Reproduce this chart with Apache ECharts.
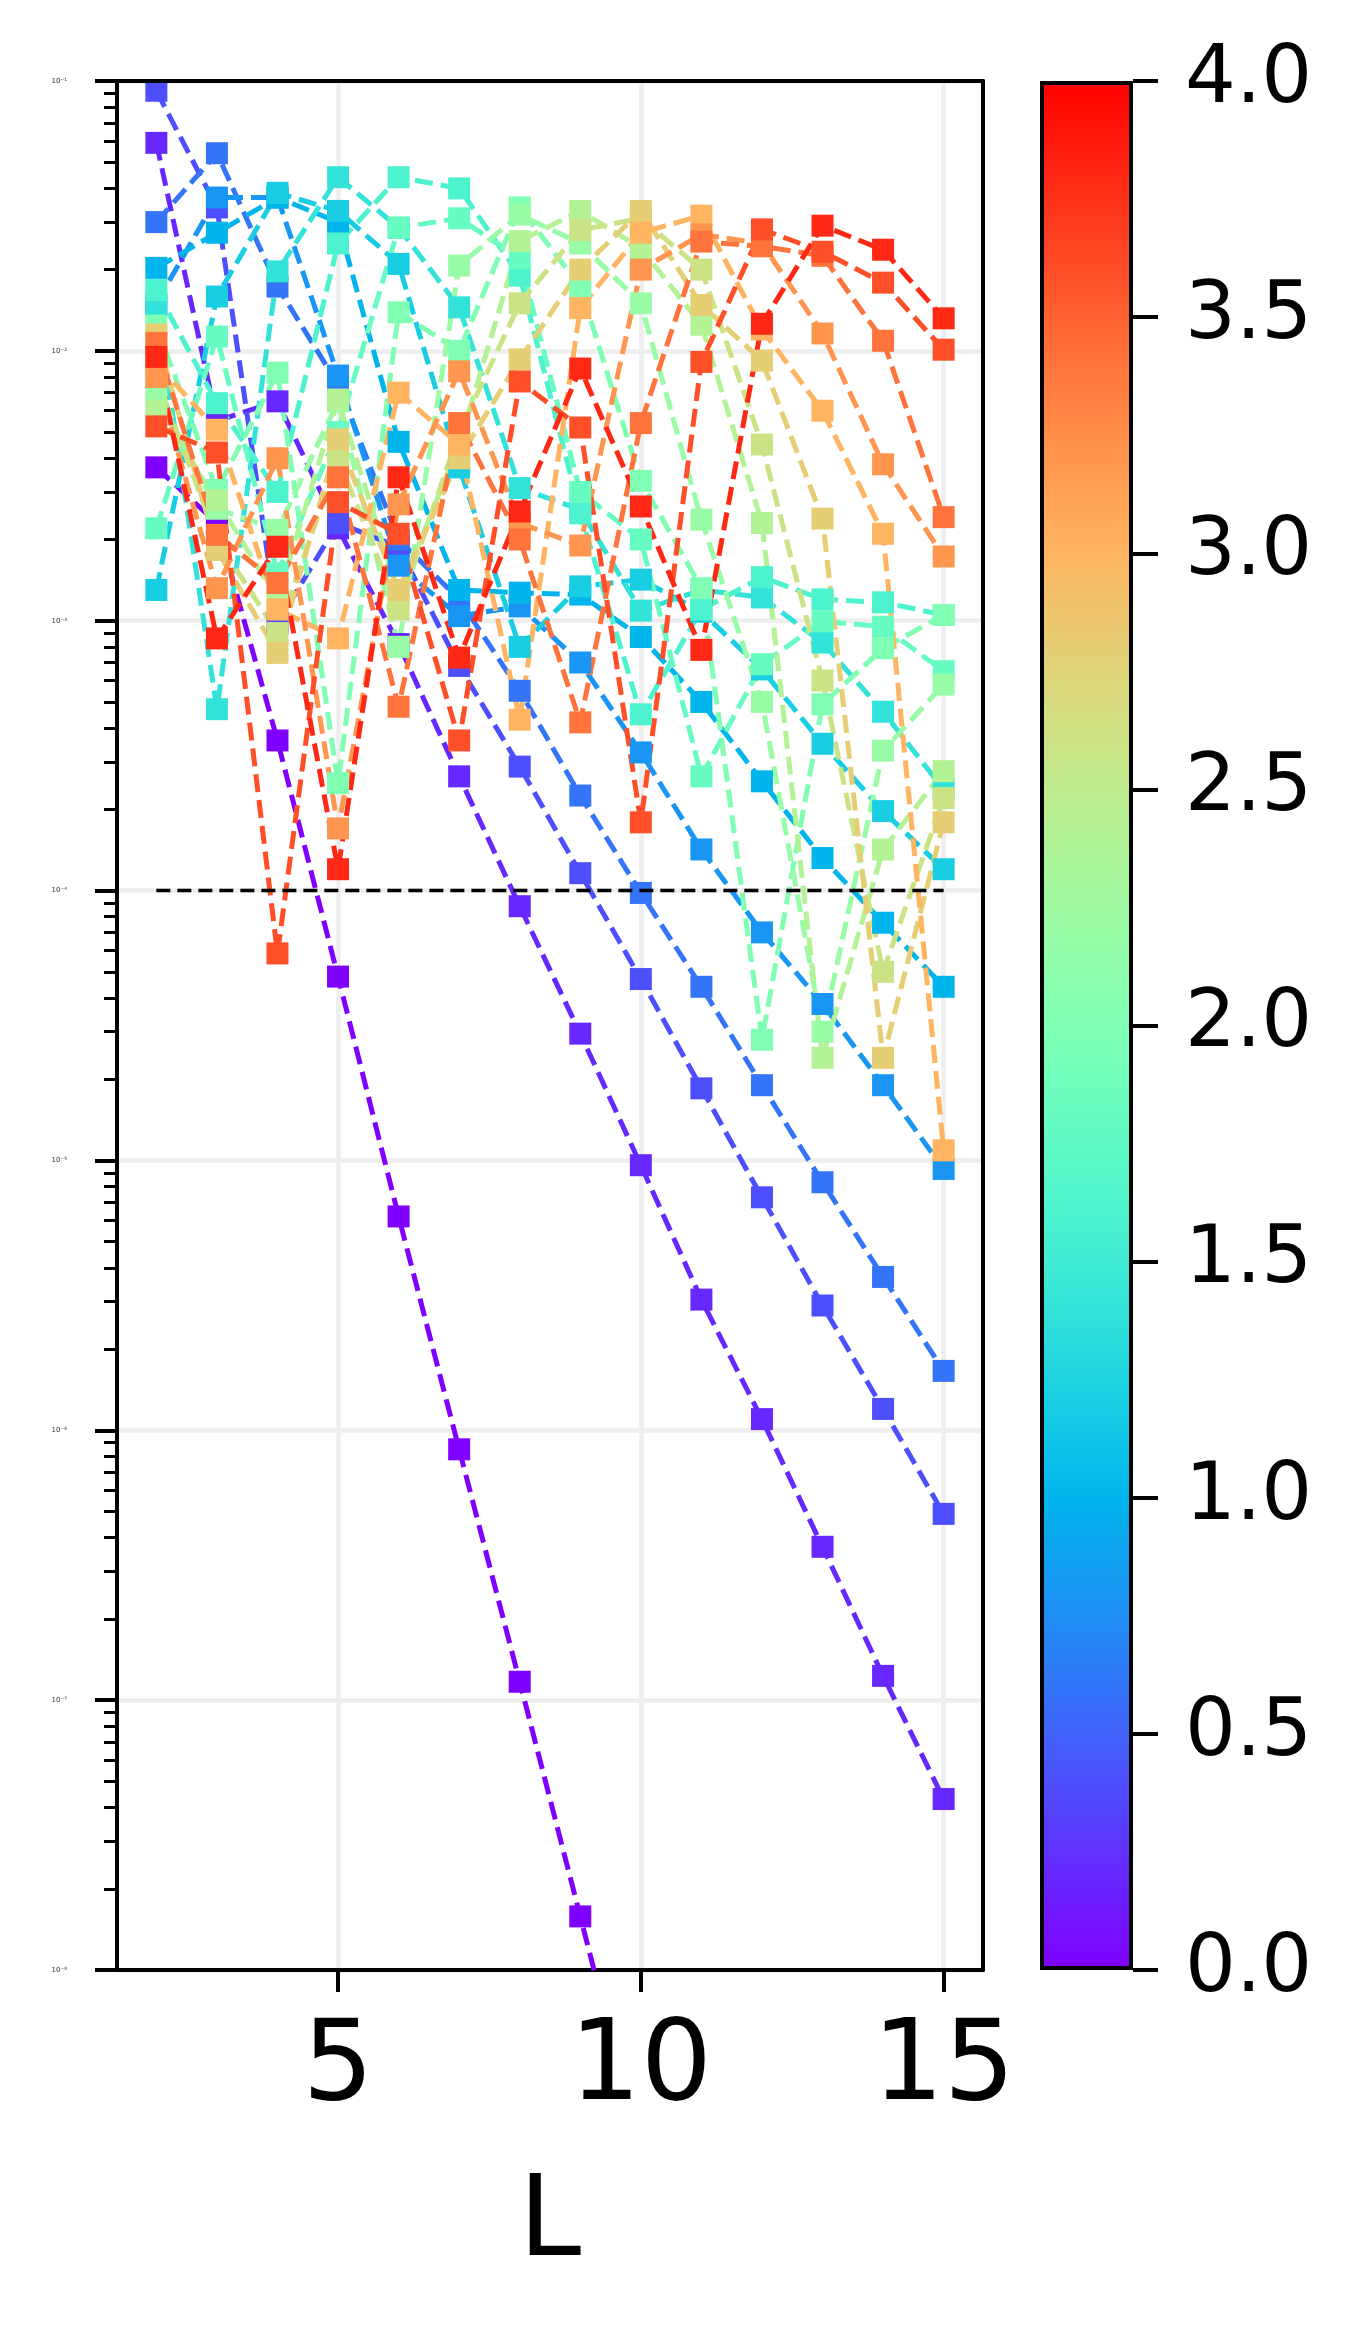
<!DOCTYPE html>
<html>
<head>
<meta charset="utf-8">
<script src="https://cdn.jsdelivr.net/npm/echarts@6/dist/echarts.min.js"></script>
<style>
  html, body { margin: 0; padding: 0; background: #fff; }
  #chart { width: 1365px; height: 2327px; }
</style>
</head>
<body>
<div id="chart"></div>
<script>
// system sizes on the x axis
const L = [2, 3, 4, 5, 6, 7, 8, 9, 10, 11, 12, 13, 14, 15];

// colour parameter of each curve (colorbar 0..4)
const gVals = [0.0, 0.2, 0.4, 0.6, 0.8, 1.0, 1.2, 1.4, 1.6, 1.8,
               2.0, 2.2, 2.4, 2.6, 2.8, 3.0, 3.2, 3.4, 3.6, 3.8];

// one curve per g (L = 2..15)
const g00 = [3.7e-3, 2.3e-3, 3.6e-4, 4.8e-5, 6.2e-6, 8.5e-7, 1.17e-7, 1.58e-8, 2.1e-9, null, null, null, null, null];
const g02 = [5.9e-2, 5.5e-3, 6.5e-3, 2.2e-3, 8.2e-4, 2.65e-4, 8.75e-5, 2.95e-5, 9.6e-6, 3.05e-6, 1.1e-6, 3.7e-7, 1.23e-7, 4.3e-8];
const g04 = [9.2e-2, 3.4e-2, 9.8e-4, 2.3e-3, 1.88e-3, 6.8e-4, 2.88e-4, 1.16e-4, 4.7e-5, 1.85e-5, 7.3e-6, 2.9e-6, 1.2e-6, 4.9e-7];
const g06 = [3.0e-2, 5.4e-2, 1.73e-2, 7.5e-3, 2.0e-3, 1.2e-3, 5.5e-4, 2.25e-4, 9.8e-5, 4.4e-5, 1.9e-5, 8.3e-6, 3.7e-6, 1.66e-6];
const g08 = [1.5e-2, 3.7e-2, 3.7e-2, 8.1e-3, 1.6e-3, 1.04e-3, 1.13e-3, 7.0e-4, 3.25e-4, 1.42e-4, 7.0e-5, 3.8e-5, 1.9e-5, 9.3e-6];
const g10 = [2.03e-2, 2.74e-2, 3.7e-2, 3.0e-2, 4.6e-3, 1.3e-3, 1.27e-3, 1.25e-3, 8.7e-4, 5.0e-4, 2.54e-4, 1.32e-4, 7.6e-5, 4.4e-5];
const g12 = [1.3e-3, 1.59e-2, 3.85e-2, 3.3e-2, 2.1e-2, 3.7e-3, 8.0e-4, 1.34e-3, 1.42e-3, 1.08e-3, 6.6e-4, 3.5e-4, 1.97e-4, 1.2e-4];
const g14 = [1.48e-2, 4.7e-4, 1.97e-2, 4.4e-2, 2.86e-2, 1.45e-2, 3.1e-3, 2.58e-3, 1.09e-3, 1.3e-3, 1.22e-3, 8.3e-4, 4.6e-4, 2.37e-4];
const g16 = [1.68e-2, 6.4e-3, 3.0e-3, 2.5e-2, 4.4e-2, 4.0e-2, 1.9e-2, 2.5e-3, 4.5e-4, 1.1e-3, 1.45e-3, 1.2e-3, 1.17e-3, 1.05e-3];
const g18 = [2.2e-3, 1.13e-2, 1.5e-3, 5.0e-3, 2.86e-2, 3.1e-2, 2.2e-2, 3.0e-3, 2.0e-3, 2.65e-4, 6.9e-4, 9.95e-4, 9.5e-4, 6.5e-4];
const g20 = [1.24e-2, 3.05e-3, 8.3e-3, 2.5e-4, 1.39e-2, 1.0e-2, 3.4e-2, 1.73e-2, 3.3e-3, 1.32e-3, 2.8e-5, 4.9e-4, 7.9e-4, 1.05e-3];
const g22 = [7.0e-3, 2.6e-3, 2.17e-3, 6.5e-3, 8.0e-4, 2.07e-2, 3.2e-2, 2.5e-2, 1.5e-2, 2.37e-3, 5.0e-4, 3.0e-5, 3.3e-4, 5.8e-4];
const g24 = [6.0e-3, 2.8e-3, 1.2e-3, 6.6e-3, 1.25e-3, 4.5e-3, 2.55e-2, 3.3e-2, 2.4e-2, 1.25e-2, 2.3e-3, 2.4e-5, 1.42e-4, 2.77e-4];
const g26 = [8.0e-3, 2.0e-3, 9.0e-4, 4.0e-3, 1.1e-3, 5.0e-3, 1.5e-2, 2.8e-2, 3.1e-2, 2.0e-2, 4.5e-3, 6.0e-4, 5.0e-5, 2.2e-4];
const g28 = [1.15e-2, 1.83e-3, 7.6e-4, 4.7e-3, 1.3e-3, 4.0e-3, 9.3e-3, 2.0e-2, 3.3e-2, 1.48e-2, 9.2e-3, 2.39e-3, 2.4e-5, 1.79e-4];
const g30 = [9.0e-3, 5.1e-3, 1.1e-3, 8.6e-4, 7.0e-3, 4.5e-3, 4.3e-4, 1.44e-2, 2.74e-2, 3.17e-2, 1.2e-2, 6.0e-3, 2.1e-3, 1.09e-5];
const g32 = [8.0e-3, 1.32e-3, 4.0e-3, 1.7e-4, 2.7e-3, 8.4e-3, 2.3e-3, 1.9e-3, 2.0e-2, 2.7e-2, 2.5e-2, 1.16e-2, 3.8e-3, 1.73e-3];
const g34 = [1.07e-2, 2.08e-3, 1.38e-3, 3.4e-3, 4.8e-4, 5.4e-3, 2.0e-3, 4.2e-4, 5.4e-3, 2.54e-2, 2.44e-2, 2.25e-2, 1.09e-2, 2.42e-3];
const g36 = [5.25e-3, 4.2e-3, 5.85e-5, 2.75e-3, 2.1e-3, 3.6e-4, 7.7e-3, 5.2e-3, 1.79e-4, 9.1e-3, 2.82e-2, 2.33e-2, 1.79e-2, 1.01e-2];
const g38 = [9.5e-3, 8.6e-4, 1.88e-3, 1.2e-4, 3.4e-3, 7.3e-4, 2.54e-3, 8.6e-3, 2.65e-3, 7.8e-4, 1.26e-2, 2.91e-2, 2.37e-2, 1.32e-2];

const curves = [g00, g02, g04, g06, g08, g10, g12, g14, g16, g18,
                g20, g22, g24, g26, g28, g30, g32, g34, g36, g38];

// dashed reference level
const threshold = 1e-4;
const thresholdL = [2, 15];

// axis ticks
const xTicks = [5, 10, 15];
const yMajor = [1e-8, 1e-7, 1e-6, 1e-5, 1e-4, 1e-3, 1e-2, 1e-1];
const yMinor = [];
for (let e = -8; e < -1; e++) {
  for (let m = 2; m <= 9; m++) yMinor.push(m * Math.pow(10, e));
}
const cbarMax = 4;

// matplotlib "rainbow" colormap
function rainbow(t) {
  const clip = v => Math.max(0, Math.min(1, v));
  const r = clip(Math.abs(2 * t - 0.5));
  const g = clip(Math.sin(Math.PI * t));
  const b = clip(Math.cos(Math.PI * t / 2));
  const h = v => Math.round(v * 255).toString(16).padStart(2, '0');
  return '#' + h(r) + h(g) + h(b);
}

const sup = { '-': '\u207B', '0': '\u2070', '1': '\u00B9', '2': '\u00B2', '3': '\u00B3',
  '4': '\u2074', '5': '\u2075', '6': '\u2076', '7': '\u2077', '8': '\u2078', '9': '\u2079' };
function decadeLabel(v) {
  const e = String(Math.round(Math.log10(v)));
  return '10' + e.split('').map(c => sup[c]).join('');
}

const FONT = 'DejaVu Sans';
const chart = echarts.init(document.getElementById('chart'), null, { renderer: 'canvas' });

const series = curves.map((vals, i) => {
  const c = rainbow(gVals[i] / cbarMax);
  return {
    type: 'line',
    xAxisIndex: 0,
    yAxisIndex: 0,
    data: L.map((x, j) => [x, vals[j] == null ? '-' : vals[j]]),
    symbol: 'rect',
    symbolSize: 22,
    clip: true,
    lineStyle: { color: c, width: 5, type: [18, 8] },
    itemStyle: { color: c },
    emphasis: { disabled: true },
    silent: true
  };
});

series.push({
  type: 'line',
  xAxisIndex: 0,
  yAxisIndex: 0,
  data: thresholdL.map(x => [x, threshold]),
  symbol: 'none',
  lineStyle: { color: '#000', width: 3.5, type: [14, 7] },
  silent: true,
  z: 5
});

// colorbar drawn as one full-height bar
const stops = [];
for (let k = 0; k <= 40; k++) stops.push({ offset: k / 40, color: rainbow(k / 40) });
series.push({
  type: 'bar',
  xAxisIndex: 1,
  yAxisIndex: 2,
  data: [cbarMax],
  barWidth: '100%',
  itemStyle: {
    color: new echarts.graphic.LinearGradient(0, 1, 0, 0, stops),
    borderColor: '#000',
    borderWidth: 4
  },
  silent: true
});

const frameLine = { show: true, lineStyle: { color: '#000', width: 4 } };

const option = {
  animation: false,
  backgroundColor: '#fff',
  grid: [
    { left: 117, top: 81, width: 866, height: 1889 },
    { left: 1040, top: 81, width: 93, height: 1889 }
  ],
  xAxis: [
    {
      gridIndex: 0,
      type: 'value',
      min: 1.35,
      max: 15.65,
      name: 'L',
      nameLocation: 'middle',
      nameGap: 200,
      nameTextStyle: { fontFamily: FONT, fontSize: 112, color: '#000' },
      axisLine: frameLine,
      axisTick: { show: true, customValues: xTicks, length: 22, lineStyle: { color: '#000', width: 4 } },
      axisLabel: { customValues: xTicks, fontFamily: FONT, fontSize: 112, color: '#000', margin: 44 },
      splitLine: { show: true, lineStyle: { color: '#eeeeee', width: 4.5 } }
    },
    {
      gridIndex: 1,
      type: 'category',
      data: ['cb'],
      show: false,
      boundaryGap: true
    },
    {
      gridIndex: 0,
      type: 'value',
      min: 1.35,
      max: 15.65,
      position: 'top',
      axisLine: frameLine,
      axisTick: { show: false },
      axisLabel: { show: false },
      splitLine: { show: false },
      z: 10
    }
  ],
  yAxis: [
    {
      gridIndex: 0,
      type: 'log',
      logBase: 10,
      min: 1e-8,
      max: 1e-1,
      axisLine: frameLine,
      axisTick: { show: true, customValues: yMajor, length: 22, lineStyle: { color: '#000', width: 4 } },
      axisLabel: { customValues: yMajor, formatter: decadeLabel, fontFamily: FONT, fontSize: 7,
                   color: '#333', margin: 50 },
      splitLine: { show: true, lineStyle: { color: '#eeeeee', width: 4.5 } }
    },
    {
      gridIndex: 0,
      type: 'log',
      logBase: 10,
      min: 1e-8,
      max: 1e-1,
      position: 'left',
      axisLine: { show: false },
      axisTick: { show: true, customValues: yMinor, length: 13, lineStyle: { color: '#000', width: 3 } },
      axisLabel: { show: false },
      splitLine: { show: false }
    },
    {
      gridIndex: 1,
      type: 'value',
      min: 0,
      max: cbarMax,
      interval: 0.5,
      position: 'right',
      axisLine: { show: false },
      axisTick: { show: true, length: 25, lineStyle: { color: '#000', width: 4 } },
      axisLabel: { formatter: v => v.toFixed(1), fontFamily: FONT, fontSize: 80, color: '#000', margin: 52 },
      splitLine: { show: false }
    },
    {
      gridIndex: 0,
      type: 'value',
      min: 0,
      max: 1,
      position: 'right',
      axisLine: frameLine,
      axisTick: { show: false },
      axisLabel: { show: false },
      splitLine: { show: false },
      z: 10
    }
  ],
  series: series
};

chart.setOption(option);
</script>
</body>
</html>
